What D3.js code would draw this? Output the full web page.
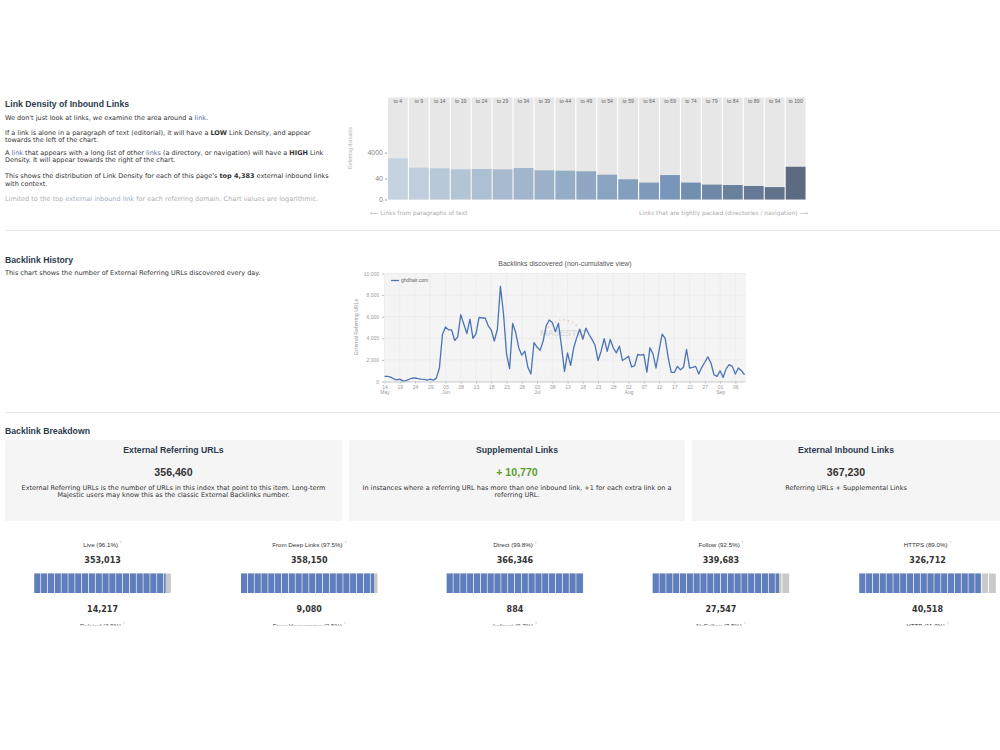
<!DOCTYPE html>
<html>
<head>
<meta charset="utf-8">
<script src="https://cdn.jsdelivr.net/npm/d3@7"></script>
<style>
  html, body { margin: 0; padding: 0; background: #fff; }
  svg { display: block; }
</style>
</head>
<body>
<svg id="page" width="1000" height="750"></svg>
<script>
const SANS = 'Liberation Sans, Arial, sans-serif';
const VERD = 'DejaVu Sans, Verdana, sans-serif';

// --- link density (log scale, referring domains per bucket)
const densityLabels = ['to 4', 'to 9', 'to 14', 'to 19', 'to 24', 'to 29', 'to 34', 'to 39', 'to 44', 'to 49',
    'to 54', 'to 59', 'to 64', 'to 69', 'to 74', 'to 79', 'to 84', 'to 89', 'to 94', 'to 100'];
const densityValues = [1480, 280, 250, 210, 222, 210, 265, 176, 164, 147, 80, 35, 19, 75, 19, 13, 12, 10, 8, 330];
const densityTicks = [0, 40, 4000];

// --- backlink history, one value per day starting at historyStart
const historyStart = new Date(Date.UTC(2018, 4, 14));
const historyValues = [
    480, 470, 410, 250, 160, 220, 60, 90, 190, 300,
    340, 260, 220, 190, 130, 220, 120, 310, 1250, 4350,
    5050, 4780, 4780, 3800, 4130, 6190, 5300, 4440, 5780, 4000,
    4440, 5940, 5880, 5880, 5160, 4750, 3750, 4840, 8810, 6300,
    2560, 1190, 5370, 4530, 3130, 2440, 2810, 1310, 690, 3590,
    3190, 2880, 3750, 5160, 5690, 5470, 4600, 5400, 3300, 940,
    2650, 1500, 3100, 4060, 4840, 3900, 4940, 4375, 3900, 3375,
    1940, 2800, 3970, 2800, 3900, 3100, 2650, 3280, 1940, 2125,
    2340, 1340, 1470, 2500, 2440, 2500, 875, 3125, 2560, 1250,
    2875, 4375, 4000, 2190, 840, 840, 1400, 1090, 1310, 2970,
    1250, 1310, 1400, 690, 1310, 1780, 2280, 1720, 625, 470,
    1000, 375, 1190, 1560, 1400, 690, 1250, 1000, 625
];
const historyYTicks = [0, 2000, 4000, 6000, 8000, 10000];

// --- breakdown boxes
const boxTitles = ['External Referring URLs', 'Supplemental Links', 'External Inbound Links'];
const boxValues = ['356,460', '+ 10,770', '367,230'];
const boxNotes = [
    ['External Referring URLs is the number of URLs in this index that point to this item. Long-term',
     'Majestic users may know this as the classic External Backlinks number.'],
    ['In instances where a referring URL has more than one inbound link, +1 for each extra link on a',
     'referring URL.'],
    ['Referring URLs + Supplemental Links']
];

// --- split bars
const splitLabels = ['Live', 'From Deep Links', 'Direct', 'Follow', 'HTTPS'];
const splitPercents = [96.1, 97.5, 99.8, 92.5, 89.0];
const splitTop = ['353,013', '358,150', '366,346', '339,683', '326,712'];
const splitBottom = ['14,217', '9,080', '884', '27,547', '40,518'];
const splitBottomLabels = ['Deleted', 'From Homepages', 'Indirect', 'NoFollow', 'HTTP'];

const svg = d3.select('#page');
svg.append('defs').append('clipPath').attr('id', 'pageclip')
    .append('rect').attr('x', 0).attr('y', 0).attr('width', 1000).attr('height', 625.5);
const root = svg.append('g').attr('clip-path', 'url(#pageclip)');

const BODY = 6.5;

function richLine(g, x, y, parts, o = {}) {
    const fill = o.fill || '#333';
    const t = g.append('text')
        .attr('x', x).attr('y', y)
        .attr('font-family', o.family || VERD)
        .attr('font-size', o.size || BODY)
        .attr('fill', fill)
        .attr('text-anchor', o.anchor || 'start')
        .style('white-space', 'pre');
    parts.forEach(p => {
        if (typeof p === 'string') {
            t.append('tspan').attr('fill', fill).text(p);
        } else {
            t.append('tspan').text(p.t)
                .attr('font-weight', p.b ? 'bold' : 'normal')
                .attr('fill', p.c || fill);
        }
    });
    return t;
}

function heading(x, y, txt) {
    root.append('text').attr('x', x).attr('y', y)
        .attr('font-family', SANS).attr('font-size', 8.7).attr('font-weight', 'bold')
        .attr('fill', '#2c3a4c').text(txt);
}

const LINK = '#5a6ea0';

// ================= Link density section
heading(5, 107, 'Link Density of Inbound Links');
const intro = root.append('g');
richLine(intro, 5, 120, ["We don't just look at links, we examine the area around a ", {t: 'link', c: LINK}, '.']);
richLine(intro, 5, 134.5, ['If a link is alone in a paragraph of text (editorial), it will have a ', {t: 'LOW', b: true}, ' Link Density, and appear']);
richLine(intro, 5, 141.8, ['towards the left of the chart.']);
richLine(intro, 5, 154.5, ['A ', {t: 'link', c: LINK}, ' that appears with a long list of other ', {t: 'links', c: LINK}, ' (a directory, or navigation) will have a ', {t: 'HIGH', b: true}, ' Link']);
richLine(intro, 5, 161.8, ['Density. It will appear towards the right of the chart.']);
richLine(intro, 5, 178, ["This shows the distribution of Link Density for each of this page's ", {t: 'top 4,383', b: true}, ' external inbound links']);
richLine(intro, 5, 185.5, ['with context.']);
richLine(intro, 5, 200.5, ['Limited to the top ', {t: 'external inbound link', c: '#9fb0c8'}, ' for each referring domain. Chart values are logarithmic.'], {fill: '#b0b0b0'});

const dx = d3.scaleBand().domain(densityLabels).range([388, 805.5]).paddingInner(0.055);
const dy = d3.scaleSymlog().constant(1).domain([0, 4000]).range([199.5, 152.7]);
const dColor = d3.scaleLinear().domain([0, 9, 13, 19])
    .range(['#c5d2df', '#8fa7c2', '#7896b9', '#5c6b82']);

const dens = root.append('g');
dens.selectAll('rect.bg').data(densityLabels).join('rect')
    .attr('class', 'bg')
    .attr('x', d => dx(d)).attr('y', 97.5)
    .attr('width', dx.bandwidth()).attr('height', 199.5 - 97.5)
    .attr('fill', '#e7e7e7');
dens.selectAll('rect.bar').data(densityValues).join('rect')
    .attr('class', 'bar')
    .attr('x', (d, i) => dx(densityLabels[i])).attr('y', d => dy(d))
    .attr('width', dx.bandwidth()).attr('height', d => dy(0) - dy(d))
    .attr('fill', (d, i) => dColor(i));
dens.selectAll('text.cat').data(densityLabels).join('text')
    .attr('class', 'cat')
    .attr('x', d => dx(d) + dx.bandwidth() / 2).attr('y', 103)
    .attr('text-anchor', 'middle')
    .attr('font-family', SANS).attr('font-size', 5.2).attr('fill', '#666')
    .text(d => d);

const dAxis = dens.append('g').attr('transform', 'translate(387,0)')
    .call(d3.axisLeft(dy).tickValues(densityTicks).tickFormat(d3.format('d')).tickSize(2).tickSizeOuter(0));
dAxis.select('.domain').remove();
dAxis.selectAll('line').attr('stroke', '#999');
dAxis.selectAll('text').attr('font-family', SANS).attr('font-size', 7).attr('fill', '#888').attr('dx', 1);

dens.append('text')
    .attr('transform', 'translate(352,148) rotate(-90)')
    .attr('text-anchor', 'middle')
    .attr('font-family', SANS).attr('font-size', 5.2).attr('fill', '#b5b5b5')
    .text('Referring domains');
dens.append('text').attr('x', 370).attr('y', 214.5)
    .attr('font-family', VERD).attr('font-size', 5.9).attr('fill', '#ababab')
    .text('\u27f5 Links from paragraphs of text');
dens.append('text').attr('x', 808).attr('y', 214.5).attr('text-anchor', 'end')
    .attr('font-family', VERD).attr('font-size', 5.9).attr('fill', '#ababab')
    .text('Links that are tightly packed (directories / navigation) \u27f6');

// separators
root.append('line').attr('x1', 5).attr('x2', 1000).attr('y1', 230.5).attr('y2', 230.5).attr('stroke', '#e6e6e6');
root.append('line').attr('x1', 5).attr('x2', 1000).attr('y1', 412.5).attr('y2', 412.5).attr('stroke', '#e6e6e6');

// ================= Backlink history section
heading(5, 262.5, 'Backlink History');
richLine(root, 5, 275, ['This chart shows the number of External Referring URLs discovered every day.']);

const historyDates = historyValues.map((v, i) => d3.utcDay.offset(historyStart, i));
const hx = d3.scaleUtc()
    .domain([historyStart, historyDates[historyDates.length - 1]])
    .range([384.5, 744.5]);
const hy = d3.scaleLinear().domain([0, 10000]).range([381.5, 273.5]);

const hist = root.append('g');
hist.append('rect').attr('x', 384).attr('y', 273.5).attr('width', 362).attr('height', 108)
    .attr('fill', '#f4f4f4');

const xTicks = d3.utcDay.range(historyStart, historyDates[historyDates.length - 1], 5);
hist.selectAll('line.vgrid').data(xTicks).join('line')
    .attr('class', 'vgrid')
    .attr('x1', d => hx(d)).attr('x2', d => hx(d))
    .attr('y1', 273.5).attr('y2', 381.5)
    .attr('stroke', '#e9e9e9').attr('stroke-width', 0.6);
hist.selectAll('line.hgrid').data(historyYTicks).join('line')
    .attr('class', 'hgrid')
    .attr('x1', 384).attr('x2', 746)
    .attr('y1', d => hy(d)).attr('y2', d => hy(d))
    .attr('stroke', '#e6e6e6').attr('stroke-width', 0.6);

// watermark
const wm = hist.append('g').attr('opacity', 0.8);
wm.append('text').attr('x', 563).attr('y', 336).attr('text-anchor', 'middle')
    .attr('font-family', SANS).attr('font-size', 9).attr('font-weight', 'bold')
    .attr('fill', '#d6d6d6').text('MAJESTIC');
wm.append('path').attr('d', 'M548,328 Q562,312 578,327')
    .attr('fill', 'none').attr('stroke', '#f2c4a4').attr('stroke-width', 1.6)
    .attr('stroke-dasharray', '1.5,3');

const yAx = hist.append('g').attr('transform', 'translate(384,0)')
    .call(d3.axisLeft(hy).tickValues(historyYTicks).tickFormat(d3.format(',')).tickSize(2).tickSizeOuter(0));
yAx.select('.domain').remove();
yAx.selectAll('line').attr('stroke', '#bbb');
yAx.selectAll('text').attr('font-family', SANS).attr('font-size', 5).attr('fill', '#999');

const fmtDay = d3.utcFormat('%d');
const fmtMon = d3.utcFormat('%b');
const xAx = hist.append('g').attr('transform', 'translate(0,381.5)')
    .call(d3.axisBottom(hx).tickValues(xTicks).tickFormat(fmtDay).tickSize(2).tickSizeOuter(0));
xAx.select('.domain').attr('stroke', '#ccc');
xAx.selectAll('line').attr('stroke', '#bbb');
xAx.selectAll('text').attr('font-family', SANS).attr('font-size', 5).attr('fill', '#999').attr('dy', '0.55em');
xAx.selectAll('.tick').filter((d, i) => i === 0 || d.getUTCMonth() !== xTicks[i - 1].getUTCMonth())
    .append('text')
    .attr('y', 12.5).attr('text-anchor', 'middle')
    .attr('font-family', SANS).attr('font-size', 5).attr('fill', '#999')
    .text(d => fmtMon(d));

hist.append('path')
    .datum(historyValues)
    .attr('fill', 'none').attr('stroke', '#4a74b5').attr('stroke-width', 1.3)
    .attr('stroke-linejoin', 'round')
    .attr('d', d3.line().x((d, i) => hx(historyDates[i])).y(d => hy(d)));

hist.append('text').attr('x', 565).attr('y', 266).attr('text-anchor', 'middle')
    .attr('font-family', SANS).attr('font-size', 6.9).attr('fill', '#555')
    .text('Backlinks discovered (non-cumulative view)');
hist.append('text')
    .attr('transform', 'translate(358,327) rotate(-90)')
    .attr('text-anchor', 'middle')
    .attr('font-family', SANS).attr('font-size', 5.2).attr('fill', '#999')
    .text('External Referring URLs');
hist.append('line').attr('x1', 391).attr('x2', 399).attr('y1', 280.5).attr('y2', 280.5)
    .attr('stroke', '#4a74b5').attr('stroke-width', 1.3);
hist.append('text').attr('x', 401).attr('y', 282.3)
    .attr('font-family', SANS).attr('font-size', 5).attr('fill', '#666').text('ghdhair.com');

// ================= Backlink breakdown
heading(5, 433.5, 'Backlink Breakdown');
const boxX = [[5, 342], [349, 685], [692, 1000]];
const boxes = root.append('g');
boxTitles.forEach((title, i) => {
    const [x0, x1] = boxX[i];
    const cx = (x0 + x1) / 2;
    boxes.append('rect').attr('x', x0).attr('y', 440).attr('width', x1 - x0).attr('height', 81)
        .attr('rx', 1.5).attr('fill', '#f5f5f5');
    boxes.append('text').attr('x', cx).attr('y', 453)
        .attr('text-anchor', 'middle').attr('font-family', SANS).attr('font-size', 8.7)
        .attr('font-weight', 'bold').attr('fill', '#2c3a4c').text(title);
    boxes.append('text').attr('x', cx).attr('y', 475.5)
        .attr('text-anchor', 'middle').attr('font-family', SANS).attr('font-size', 10.6)
        .attr('font-weight', 'bold').attr('fill', i === 1 ? '#5aa02c' : '#333').text(boxValues[i]);
    boxNotes[i].forEach((ln, j) => {
        richLine(boxes, cx, 489.5 + j * 7.8, [ln], {anchor: 'middle'});
    });
});

// ================= split bars
const splitW = 136.5;
const splitX0 = [34.3, 241, 446.7, 652.7, 859.3];
const pctFmt = d3.format('.1f');
const splits = root.append('g');
splitLabels.forEach((lab, i) => {
    const x = d3.scaleLinear().domain([0, 100]).range([splitX0[i], splitX0[i] + splitW]);
    const cx = x(50);
    const cells = d3.range(0, 100, 5);
    const g = splits.append('g');
    const lt = richLine(g, cx, 546.5, [lab + ' (' + pctFmt(splitPercents[i]) + '%)'],
        {anchor: 'middle', family: SANS, size: 6.2, fill: '#333'});
    lt.append('tspan').attr('dx', 1.5).attr('dy', -2.5).attr('font-size', 4).attr('fill', '#bbb').text('?');
    g.append('text').attr('x', cx).attr('y', 562.5).attr('text-anchor', 'middle')
        .attr('font-family', VERD).attr('font-size', 8).attr('font-weight', 'bold').attr('fill', '#333')
        .text(splitTop[i]);
    g.selectAll('rect.grey').data(cells).join('rect')
        .attr('class', 'grey')
        .attr('x', d => x(d)).attr('y', 573.5)
        .attr('width', d => x(d + 5) - x(d) - (d < 95 ? 0.8 : 0)).attr('height', 19.5)
        .attr('fill', '#c9c9c9');
    g.selectAll('rect.blue').data(cells.filter(d => d < splitPercents[i])).join('rect')
        .attr('class', 'blue')
        .attr('x', d => x(d)).attr('y', 573.5)
        .attr('width', d => x(Math.min(d + 5, splitPercents[i])) - x(d) - (d + 5 <= splitPercents[i] && d < 95 ? 0.8 : 0))
        .attr('height', 19.5)
        .attr('fill', '#5e7ebd');
    g.append('text').attr('x', cx).attr('y', 611.5).attr('text-anchor', 'middle')
        .attr('font-family', VERD).attr('font-size', 8).attr('font-weight', 'bold').attr('fill', '#333')
        .text(splitBottom[i]);
    const bt = richLine(g, cx, 627.5, [splitBottomLabels[i] + ' (' + pctFmt(100 - splitPercents[i]) + '%)'],
        {anchor: 'middle', family: SANS, size: 6.2, fill: '#333'});
    bt.append('tspan').attr('dx', 1.5).attr('dy', -2.5).attr('font-size', 4).attr('fill', '#bbb').text('?');
});
</script>
</body>
</html>
